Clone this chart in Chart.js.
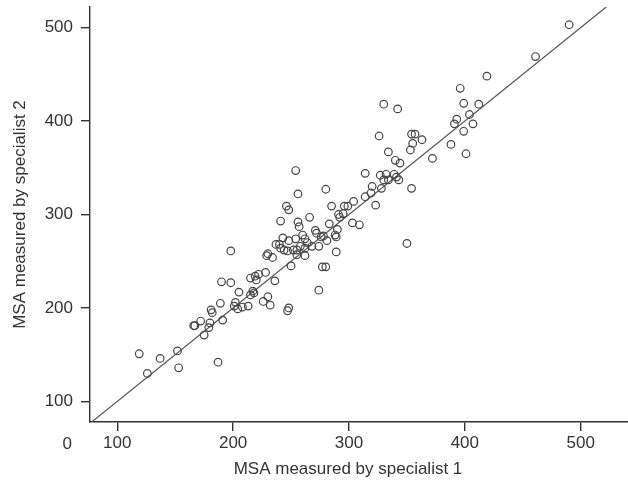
<!DOCTYPE html>
<html>
<head>
<meta charset="utf-8">
<script src="https://cdn.jsdelivr.net/npm/chart.js@4.4.1/dist/chart.umd.min.js"></script>
<style>
  html, body { margin: 0; padding: 0; background: #ffffff; }
  #wrap { width: 628px; height: 480px; }
</style>
</head>
<body>
<div id="wrap"><canvas id="c" width="628" height="480"></canvas></div>
<script>
// MSA measured by specialist 1 (x) and specialist 2 (y)
const specialist1 = [
  119,126,137,152,153,166,167,172,180,179,175,181,182,189,191,187,201,204,208,202,
  205,213,190,198,198,215,219,222,220,217,215,218,229,230,234,237,240,241,243,244,
  247,248,252,254,255,255,254,256,246,248,241,256,257,250,228,236,230,226,232,248,
  247,260,262,264,258,262,268,274,262,266,271,272,278,276,281,283,280,285,291,292,
  290,288,289,289,296,299,304,303,309,277,280,274,295,314,327,332,339,341,330,334,
  343,320,328,354,314,319,323,330,342,326,354,357,363,355,353,334,340,344,372,388,
  401,399,391,393,407,404,399,412,396,419,461,490,350
];
const specialist2 = [
  151,130,146,154,136,181,181,186,184,179,171,198,195,205,187,142,202,199,201,206,
  217,202,228,227,261,232,234,236,230,218,214,216,256,258,254,268,268,264,275,262,
  261,272,262,274,257,262,347,322,309,305,293,292,287,245,238,229,212,207,203,200,
  197,278,274,270,266,264,266,266,256,297,283,280,277,276,272,290,327,309,300,297,
  284,278,276,260,309,309,314,291,289,244,244,219,301,344,342,343,343,340,337,337,
  337,330,328,328,319,323,310,418,413,384,386,386,380,376,369,367,358,355,360,375,
  365,389,397,402,397,407,419,418,435,448,469,503,269
];
// line of equality endpoints
const equalityLine = [77, 522];
const xTicks = [100, 200, 300, 400, 500];
const yTicks = [100, 200, 300, 400, 500];
const xTitle = 'MSA measured by specialist 1';
const yTitle = 'MSA measured by specialist 2';
const originLabel = '0';

const FONT = '"Liberation Sans", Arial, Helvetica, sans-serif';
const TXT = '#333333';

const points = specialist1.map((x, i) => ({ x: x, y: specialist2[i] }));
const linePts = equalityLine.map(v => ({ x: v, y: v }));

const extraText = {
  id: 'extraText',
  afterDraw(chart) {
    const ctx = chart.ctx;
    ctx.save();
    ctx.fillStyle = TXT;
    ctx.font = '17px ' + FONT;
    ctx.textBaseline = 'alphabetic';
    ctx.textAlign = 'center';
    ctx.fillText(xTitle, 348, 474);
    ctx.textAlign = 'right';
    ctx.fillText(originLabel, 72, 449);
    ctx.restore();
  }
};

new Chart(document.getElementById('c'), {
  type: 'scatter',
  data: {
    datasets: [
      {
        data: points,
        showLine: false,
        pointStyle: 'circle',
        pointRadius: 3.8,
        pointHoverRadius: 3.8,
        pointBorderWidth: 1.2,
        pointBorderColor: '#444444',
        pointBackgroundColor: 'rgba(0,0,0,0)',
        order: 1
      },
      {
        type: 'line',
        data: linePts,
        showLine: true,
        borderColor: '#555555',
        borderWidth: 1.2,
        pointRadius: 0,
        fill: false,
        order: 2
      }
    ]
  },
  options: {
    responsive: false,
    devicePixelRatio: 1,
    animation: false,
    layout: { autoPadding: false, padding: { left: 0, right: 0, top: 7, bottom: 0 } },
    plugins: { legend: { display: false }, tooltip: { enabled: false } },
    scales: {
      x: {
        type: 'linear',
        min: 76.5,
        max: 540.8,
        afterBuildTicks: s => { s.ticks = xTicks.map(v => ({ value: v })); },
        afterFit: s => { s.height = 58; s.paddingLeft = 0; s.paddingRight = 0; },
        border: { display: true, color: '#333333', width: 1.4 },
        grid: { display: true, drawOnChartArea: false, drawTicks: true, tickLength: 9, color: '#333333', lineWidth: 1.4 },
        ticks: { color: TXT, font: { family: FONT, size: 17 }, padding: 2, maxRotation: 0 },
        title: { display: false }
      },
      y: {
        type: 'linear',
        min: 78,
        max: 522,
        afterBuildTicks: s => { s.ticks = yTicks.map(v => ({ value: v })); },
        afterFit: s => { s.width = 90; s.paddingTop = 0; s.paddingBottom = 0; },
        border: { display: true, color: '#333333', width: 1.4 },
        grid: { display: true, drawOnChartArea: false, drawTicks: true, tickLength: 9, color: '#333333', lineWidth: 1.4 },
        ticks: { color: TXT, font: { family: FONT, size: 17 }, padding: 8 },
        title: { display: true, text: yTitle, color: TXT, font: { family: FONT, size: 17 }, padding: { top: 10, bottom: 0 } }
      }
    }
  },
  plugins: [extraText]
});
</script>
</body>
</html>
